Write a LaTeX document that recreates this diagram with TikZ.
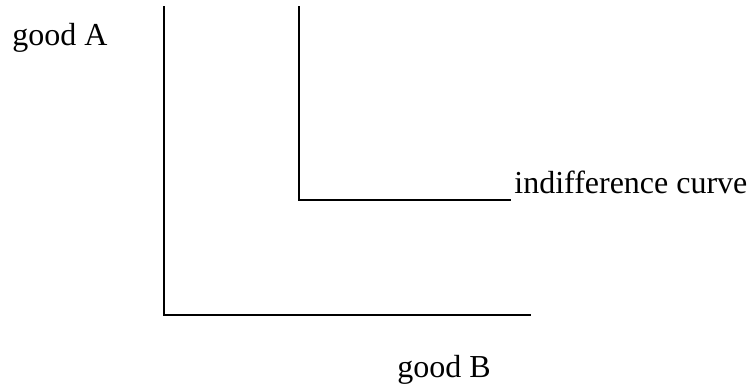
\documentclass[tikz,border=0pt]{standalone}
\usepackage{fontspec}
\setmainfont{Liberation Serif}
\tikzset{
    axisline/.style={line width=1pt, line cap=rect},
    goodlabel/.style={anchor=base west, inner sep=0pt, font=\fontsize{16}{19}\selectfont}
}
\begin{document}
\begin{tikzpicture}[x=0.5pt, y=-0.5pt]
    \useasboundingbox (0,0) rectangle (752,385);
    % Axes
    \coordinate (atop) at (164,7); \coordinate (origin) at (164,315);
    \coordinate (bend) at (530,315);
    \draw[axisline] (atop) -- (origin) -- (bend);

    % Indifference curve (right angle)
    \coordinate (ctop) at (299,7); \coordinate (corner) at (299,200);
    \coordinate (cend) at (510,200);
    \draw[axisline] (ctop) -- (corner) -- (cend);

    % Labels
    \node[goodlabel] (goodA) at (12,46) {good A};
    \node[goodlabel] (curvelabel) at (514,194) {indifference curve};
    \node[goodlabel] (goodB) at (397,378) {good B};
\end{tikzpicture}
\end{document}
